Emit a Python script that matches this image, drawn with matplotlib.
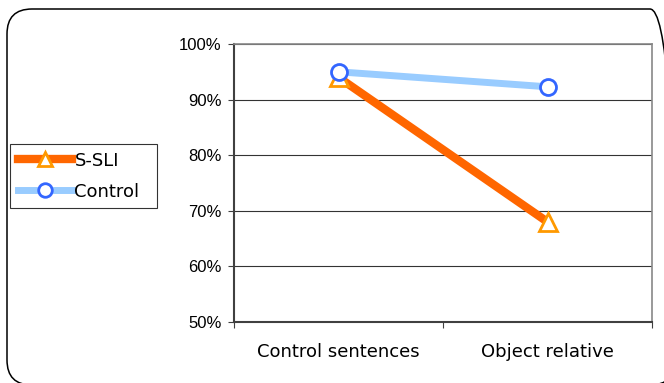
import matplotlib
matplotlib.use("Agg")
import matplotlib.pyplot as plt
from matplotlib.patches import FancyBboxPatch
from matplotlib.transforms import Affine2D
from matplotlib.ticker import FixedLocator, PercentFormatter

categories = ["Control sentences", "Object relative"]
sli_values = [0.94, 0.68]
control_values = [0.95, 0.923]
y_ticks = [0.5, 0.6, 0.7, 0.8, 0.9, 1.0]

W, H = 664, 383
fig = plt.figure(figsize=(W / 100, H / 100), dpi=100)
fig.patch.set_facecolor("white")

# outer rounded chart frame (cropped at right/bottom); pixel units mapped to figure fractions
px = Affine2D().scale(1 / W, 1 / H) + fig.transFigure
fl, fr, ft, fb = 7, 675, 9, 385  # pixel edges measured from top-left
frame = FancyBboxPatch((fl, H - fb), fr - fl, fb - ft,
                       boxstyle="round,pad=0,rounding_size=25",
                       transform=px, facecolor="none",
                       edgecolor="black", linewidth=1.1)
fig.patches.append(frame)

ax = fig.add_axes([234 / W, 1 - 322 / H, (652 - 234) / W, (322 - 44) / H])
x = list(range(len(categories)))

ax.plot(x, sli_values, color="#FF6600", linewidth=6.0, marker="^", markersize=12.5,
        markerfacecolor="white", markeredgecolor="#FF9900", markeredgewidth=2.0,
        label="S-SLI", zorder=3)
ax.plot(x, control_values, color="#99CCFF", linewidth=5.0, marker="o", markersize=11.5,
        markerfacecolor="white", markeredgecolor="#3366FF", markeredgewidth=2.0,
        label="Control", zorder=4)

ax.set_xlim(-0.5, len(categories) - 0.5)
ax.set_ylim(0.5, 1.0)
ax.yaxis.set_major_locator(FixedLocator(y_ticks))
ax.yaxis.set_major_formatter(PercentFormatter(1.0, decimals=0))
ax.grid(axis="y", color="#333333", linewidth=0.8)
ax.set_axisbelow(True)

ax.set_xticks(x)
ax.set_xticklabels(categories, fontsize=13, family="DejaVu Sans")
ax.xaxis.set_minor_locator(FixedLocator([-0.5, 0.5, 1.5]))
ax.tick_params(axis="x", which="major", length=0, pad=15)
ax.tick_params(axis="x", which="minor", length=4, width=0.8, direction="out", color="#404040")
ax.tick_params(axis="y", length=4, width=0.8, direction="out", pad=5, color="#404040")
for lbl in ax.get_yticklabels():
    lbl.set_family("Liberation Sans")
    lbl.set_fontsize(12)

ax.spines["left"].set_color("#404040")
ax.spines["bottom"].set_color("#404040")
ax.spines["top"].set_color("#888888")
ax.spines["right"].set_color("#888888")
ax.spines["left"].set_linewidth(1.5)
ax.spines["bottom"].set_linewidth(1.5)
ax.spines["top"].set_linewidth(1.2)
ax.spines["right"].set_linewidth(1.2)

leg = fig.legend(loc="upper left",
                 bbox_to_anchor=(10 / W, (H - 208) / H, 147 / W, 64 / H),
                 mode="expand",
                 prop={"family": "DejaVu Sans", "size": 13}, frameon=True,
                 fancybox=False, edgecolor="black", handlelength=3.0,
                 handletextpad=0.15, borderpad=0.42, borderaxespad=0,
                 labelspacing=0.72, markerscale=0.85)
leg.get_frame().set_linewidth(0.8)

fig.savefig("out.png", dpi=100)
